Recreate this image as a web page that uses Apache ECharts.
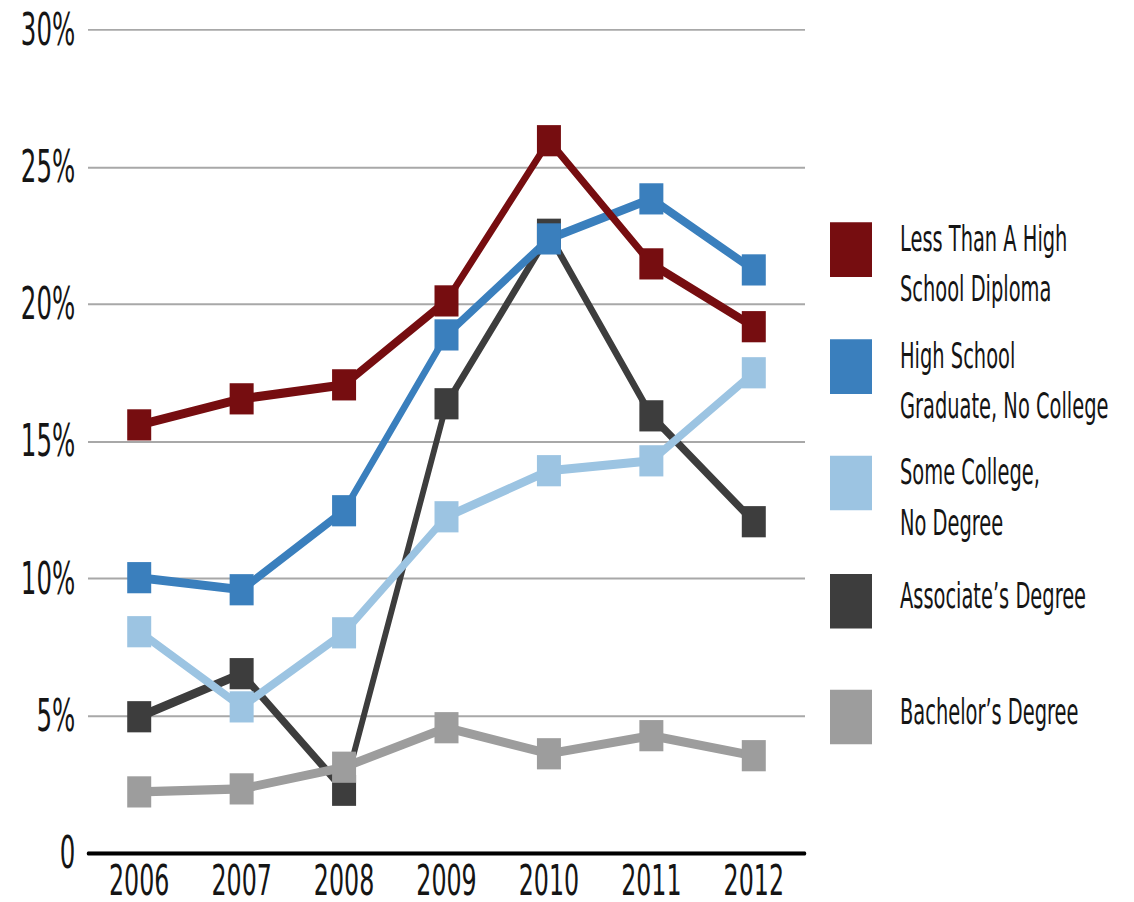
<!DOCTYPE html>
<html>
<head>
<meta charset="utf-8">
<script src="https://cdn.jsdelivr.net/npm/echarts@6/dist/echarts.min.js"></script>
<style>
  html, body { margin: 0; padding: 0; background: #fff; overflow: hidden; }
  /* condensed-type look: the chart is laid out wider and shorter, then stretched
     to 1134x902 (x * 0.8, y * 1.3) */
  #wrap { width: 1134px; height: 902px; overflow: hidden; }
  #chart { width: 1417.5px; height: 694px; transform: scale(0.8, 1.3); transform-origin: 0 0; }
</style>
</head>
<body>
<div id="wrap"><div id="chart"></div></div>
<script>
// Unemployment-style rates by education level, percent
const years = ['2006', '2007', '2008', '2009', '2010', '2011', '2012'];
const yTicks = [0, 5, 10, 15, 20, 25, 30];

const lessThanHighSchool = [15.6, 16.55, 17.06, 20.12, 25.96, 21.47, 19.18];
const highSchoolGrad = [10.03, 9.59, 12.47, 18.88, 22.38, 23.84, 21.25];
const someCollege = [8.06, 5.32, 8.02, 12.25, 13.93, 14.29, 17.5];
const associates = [4.96, 6.53, 2.28, 16.37, 22.55, 15.93, 12.07];
const bachelors = [2.22, 2.33, 3.12, 4.56, 3.61, 4.27, 3.54];

const names = {
  less: 'Less Than A High\nSchool Diploma',
  hs: 'High School\nGraduate, No College',
  some: 'Some College,\nNo Degree',
  assoc: 'Associate\u2019s Degree',
  bach: 'Bachelor\u2019s Degree'
};
const colors = {
  less: '#760d10',
  hs: '#3a7fbd',
  some: '#9cc4e2',
  assoc: '#3d3d3d',
  bach: '#9d9d9d'
};

const FONT = '"DejaVu Sans Condensed", "Liberation Sans Narrow", "Arial Narrow", sans-serif';

function lineSeries(key, data) {
  return {
    name: names[key],
    type: 'line',
    data: data,
    symbol: 'rect',
    symbolSize: [30, 24],
    showSymbol: true,
    lineStyle: { width: 7, color: colors[key], join: 'miter' },
    itemStyle: { color: colors[key] },
    emphasis: { disabled: true }
  };
}

// two-line entries sit a little below their swatch, single-line ones a little above
function legendFor(key, top, twoLine) {
  return {
    data: [{ name: names[key], icon: 'rect' }],
    left: 1037.5,
    top: top,
    padding: 0,
    itemWidth: 52.5,
    itemHeight: 42,
    selectedMode: false,
    formatter: name => (twoLine ? '{s| }\n' + name : name + '\n{s| }'),
    textStyle: {
      fontFamily: FONT,
      fontSize: 27,
      lineHeight: 39,
      color: '#151515',
      padding: [0, 0, 0, 30],
      rich: {
        s: { fontSize: 8, lineHeight: twoLine ? 22 : 8 }
      }
    }
  };
}

const chart = echarts.init(document.getElementById('chart'), null, { renderer: 'svg' });
chart.setOption({
  animation: false,
  backgroundColor: '#fff',
  grid: { left: 110, width: 896.25, top: 23, bottom: 38, containLabel: false },
  xAxis: {
    type: 'category',
    data: years,
    boundaryGap: true,
    axisLine: { show: true, lineStyle: { color: '#000', width: 3 } },
    axisTick: { show: false },
    axisLabel: {
      fontFamily: FONT,
      fontSize: 33,
      lineHeight: 28,
      color: '#151515',
      margin: 7
    }
  },
  yAxis: {
    type: 'value',
    min: yTicks[0],
    max: yTicks[yTicks.length - 1],
    interval: 5,
    axisLine: { show: false },
    axisTick: { show: false },
    splitLine: { show: true, lineStyle: { color: '#a8a8a8', width: 1.5 } },
    axisLabel: {
      fontFamily: FONT,
      fontSize: 34,
      color: '#151515',
      margin: 16,
      formatter: v => (v === 0 ? '0' : v + '%')
    }
  },
  legend: [
    legendFor('less', 142, true),
    legendFor('hs', 232, true),
    legendFor('some', 321.5, true),
    legendFor('assoc', 439, false),
    legendFor('bach', 528, false)
  ],
  series: [
    lineSeries('assoc', associates),
    lineSeries('bach', bachelors),
    lineSeries('some', someCollege),
    lineSeries('hs', highSchoolGrad),
    lineSeries('less', lessThanHighSchool)
  ]
});
</script>
</body>
</html>
